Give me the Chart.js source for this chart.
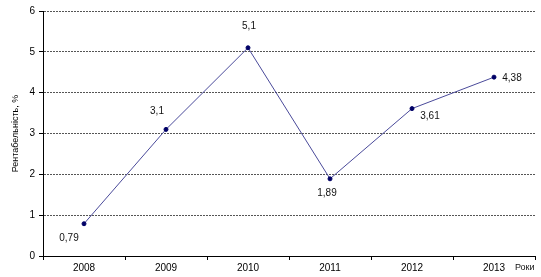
<!DOCTYPE html>
<html>
<head>
<meta charset="utf-8">
<script src="https://cdn.jsdelivr.net/npm/chart.js@4"></script>
<style>
  html, body { margin: 0; padding: 0; background: #fff; }
  #wrap { width: 541px; height: 277px; }
</style>
</head>
<body>
<div id="wrap"><canvas id="chart"></canvas></div>
<script>
const years = ["2008", "2009", "2010", "2011", "2012", "2013"];
const profitability = [0.79, 3.1, 5.1, 1.89, 3.61, 4.38];
const valueLabels = ["0,79", "3,1", "5,1", "1,89", "3,61", "4,38"];
const yTicks = [0, 1, 2, 3, 4, 5, 6];

const FONT = "'Liberation Sans', Arial, sans-serif";

// where each value label sits relative to its point (centre of text)
const labelOffsets = [
  [-15, 15], [-9, -18], [1, -22], [-3, 14], [18, 8], [18, 1]
];

const valueLabelPlugin = {
  id: "valueLabels",
  afterDatasetsDraw(chart) {
    const ctx = chart.ctx;
    const meta = chart.getDatasetMeta(0);
    ctx.save();
    ctx.font = "10px " + FONT;
    ctx.fillStyle = "#111";
    ctx.textBaseline = "middle";
    ctx.textAlign = "center";
    meta.data.forEach((pt, i) => {
      const [dx, dy] = labelOffsets[i];
      ctx.fillText(valueLabels[i], pt.x + dx, pt.y + dy);
    });
    // axis name at the end of the x axis
    ctx.textAlign = "left";
    ctx.font = "9px " + FONT;
    ctx.fillText("Роки", 515, 268);
    ctx.restore();
  },
};

new Chart(document.getElementById("chart").getContext("2d"), {
  type: "line",
  data: {
    labels: years,
    datasets: [
      {
        label: "Рентабельність, %",
        data: profitability,
        borderColor: "#4a4a9a",
        borderWidth: 1,
        pointBackgroundColor: "#000066",
        pointBorderColor: "#000066",
        pointRadius: 2,
        tension: 0,
      },
    ],
  },
  options: {
    responsive: true,
    maintainAspectRatio: false,
    animation: false,
    layout: { padding: { top: 11, right: 6, left: 10, bottom: 0 } },
    plugins: {
      legend: { display: false },
      tooltip: { enabled: false },
    },
    scales: {
      x: {
        offset: true,
        grid: {
          offset: true,
          drawOnChartArea: false,
          drawTicks: true,
          tickLength: 4,
          color: "#000",
        },
        border: { color: "#000", width: 1 },
        ticks: { color: "#000", font: { family: FONT, size: 10 }, padding: 2 },
        afterFit: (scale) => { scale.height = 21; },
      },
      y: {
        min: 0,
        max: 6,
        afterBuildTicks: (scale) => {
          scale.ticks = yTicks.map((v) => ({ value: v }));
        },
        grid: {
          color: (c) => (c.tick && c.tick.value === 0 ? "rgba(0,0,0,0)" : "#555"),
          drawTicks: true,
          tickLength: 4,
          tickColor: "#000",
          tickBorderDash: [],
        },
        border: { color: "#000", width: 1, dash: [2, 1] },
        ticks: { color: "#000", font: { family: FONT, size: 10 }, padding: 4 },
        title: {
          display: true,
          text: "Рентабельність, %",
          color: "#000",
          font: { family: FONT, size: 9 },
          padding: 0,
        },
        afterFit: (scale) => { scale.width = 33; },
      },
    },
  },
  plugins: [valueLabelPlugin],
});
</script>
</body>
</html>
